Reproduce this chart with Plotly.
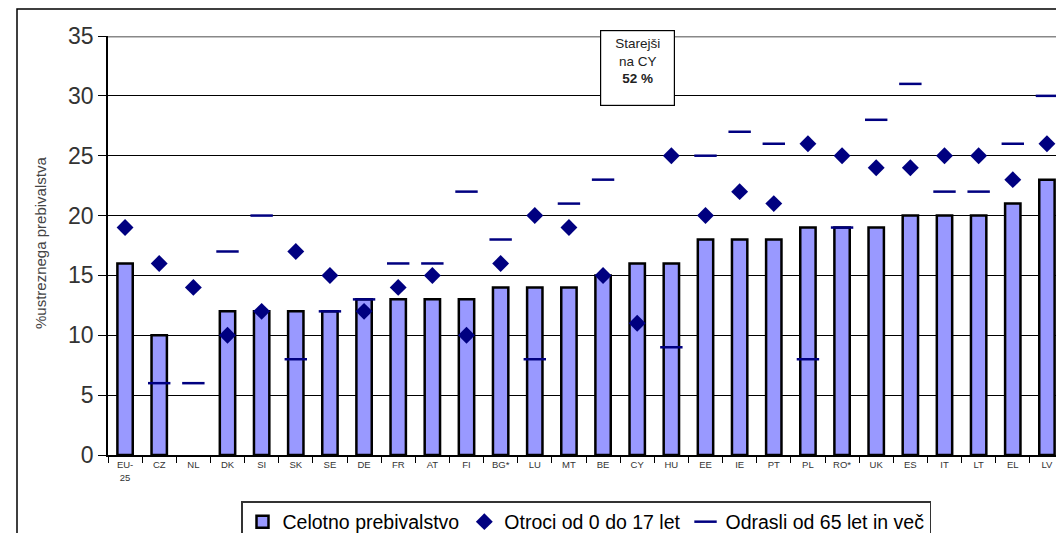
import plotly.graph_objects as go

categories = ["EU-<br>25", "CZ", "NL", "DK", "SI", "SK", "SE", "DE", "FR", "AT", "FI", "BG*", "LU", "MT",
              "BE", "CY", "HU", "EE", "IE", "PT", "PL", "RO*", "UK", "ES", "IT", "LT", "EL", "LV"]
total = [16, 10, None, 12, 12, 12, 12, 13, 13, 13, 13, 14, 14, 14,
         15, 16, 16, 18, 18, 18, 19, 19, 19, 20, 20, 20, 21, 23]
children = [19, 16, 14, 10, 12, 17, 15, 12, 14, 15, 10, 16, 20, 19,
            15, 11, 25, 20, 22, 21, 26, 25, 24, 24, 25, 25, 23, 26]
elderly = [None, 6, 6, 17, 20, 8, 12, 13, 16, 16, 22, 18, 8, 21,
           23, None, 9, 25, 27, 26, 8, 19, 28, 31, 22, 22, 26, 30]
y_ticks = [0, 5, 10, 15, 20, 25, 30, 35]

FONT = "Arial, Liberation Sans, sans-serif"
NAVY = "#000080"

fig = go.Figure()
fig.add_trace(go.Bar(
    x=categories, y=total, name="Celotno prebivalstvo",
    marker=dict(color="#9999FF", line=dict(color="black", width=2.5)),
    width=0.45,
))
fig.add_trace(go.Scatter(
    x=categories, y=children, name="Otroci od 0 do 17 let", mode="markers",
    marker=dict(symbol="diamond", size=13, color=NAVY),
))
fig.add_trace(go.Scatter(
    x=categories, y=elderly, name="Odrasli od 65 let in več", mode="markers",
    marker=dict(symbol="line-ew", size=16, color=NAVY, line=dict(color=NAVY, width=2.5)),
))

# page has an 8px body margin; figure placed at (8, 8)
OFF = 8
W, H = 1064 - OFF, 533 - OFF
# plot area in page pixels
L, R, T, B = 108, 1064, 36, 455
def px(x):
    return (x - L) / (R - L)
def py(y):
    return (B - y) / (B - T)

shapes = [
    # outer frame
    dict(type="rect", xref="paper", yref="paper", x0=px(17), x1=px(1100), y0=py(9), y1=py(560),
         line=dict(color="black", width=1.5), fillcolor="rgba(0,0,0,0)", layer="below"),
    # plot top border (gray)
    dict(type="line", xref="paper", yref="y", x0=0, x1=1, y0=35, y1=35,
         line=dict(color="#888888", width=3)),
]

fig.update_layout(
    width=W, height=H,
    margin=dict(l=L - OFF, r=0, t=T - OFF, b=(533 - B), autoexpand=False),
    paper_bgcolor="white", plot_bgcolor="white",
    font=dict(family=FONT, color="#222222"),
    showlegend=True,
    legend=dict(orientation="h", x=px(586), xanchor="center", y=py(501), yanchor="top",
                bordercolor="#333333", borderwidth=1.5, bgcolor="white",
                font=dict(size=19.5, color="black", family=FONT),
                itemwidth=30, tracegroupgap=0),
    shapes=shapes,
    annotations=[
        dict(x=15, y=32.3, xref="x", yref="y",
             text="Starejši<br>na CY<br><b>52 %</b>", showarrow=False,
             font=dict(size=13.5, color="#222222", family=FONT),
             bordercolor="black", borderwidth=1.2, borderpad=5, bgcolor="white",
             width=63, height=64, valign="top", align="center"),
        dict(x=px(40), y=py(243), xref="paper", yref="paper", text="%ustreznega prebivalstva",
             xanchor="center", yanchor="middle",
             textangle=-90, showarrow=False, font=dict(size=15, color="#444444", family=FONT)),
    ],
)
fig.update_xaxes(
    range=[-0.5, 27.5], showline=True, linecolor="black", linewidth=1.5,
    ticks="outside", tickson="boundaries", ticklen=6, tickcolor="black",
    tickfont=dict(size=9.5, color="#333333"), tickangle=0, showgrid=False,
    automargin=False,
)
fig.update_yaxes(
    range=[0, 35], tickvals=y_ticks, showline=True, linecolor="black", linewidth=1.5,
    ticks="outside", ticklen=8, tickcolor="black",
    showgrid=True, gridcolor="black", gridwidth=1,
    tickfont=dict(size=23, color="#333333"), zeroline=False, automargin=False,
)

fig.write_html("out.html")
